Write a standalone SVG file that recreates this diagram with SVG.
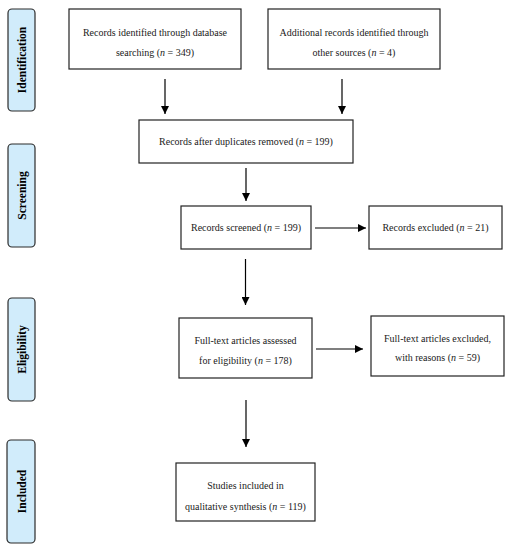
<svg xmlns="http://www.w3.org/2000/svg" width="507" height="550" viewBox="0 0 507 550">
<defs>
<marker id="ah" viewBox="0 0 10 10" refX="10" refY="5" markerWidth="8" markerHeight="8" markerUnits="userSpaceOnUse" orient="auto">
<path d="M0,0 L10,5 L0,10 z" fill="#000"/>
</marker>
<style>
.stage rect{fill:#d1ecfb;stroke:#2b2b2b;stroke-width:1.2}
.stage text{font-family:"Liberation Serif","DejaVu Serif",serif;font-weight:bold;font-size:11.5px;fill:#000;text-anchor:middle}
.box rect{fill:#fff;stroke:#222;stroke-width:1.2}
.box text{font-family:"Liberation Serif","DejaVu Serif",serif;font-size:10px;fill:#1a1a1a;text-anchor:middle}
#connectors line{stroke:#000;stroke-width:1.2;marker-end:url(#ah)}
</style>
</defs>
<rect width="507" height="550" fill="#fff"/>
<g id="stage-identification" class="stage"><rect x="8" y="9" width="27" height="102" rx="4"/><text transform="translate(25.5,60) rotate(-90)">Identification</text></g>
<g id="stage-screening" class="stage"><rect x="8" y="144" width="27" height="103" rx="4"/><text transform="translate(25.5,195.5) rotate(-90)">Screening</text></g>
<g id="stage-eligibility" class="stage"><rect x="8" y="298" width="27" height="103" rx="4"/><text transform="translate(25.5,349.5) rotate(-90)">Eligibility</text></g>
<g id="stage-included" class="stage"><rect x="7" y="440" width="28" height="103" rx="4"/><text transform="translate(25.5,491.5) rotate(-90)">Included</text></g>

<g id="n1" class="box"><rect x="69" y="9" width="172" height="60"/><text x="155" y="36">Records identified through database</text><text x="155" y="56">searching (<tspan font-style="italic">n</tspan> = 349)</text></g>
<g id="n2" class="box"><rect x="268" y="9" width="172" height="60"/><text x="354" y="36">Additional records identified through</text><text x="354" y="56">other sources (<tspan font-style="italic">n</tspan> = 4)</text></g>
<g id="n3" class="box"><rect x="139" y="120" width="214" height="43"/><text x="246" y="145">Records after duplicates removed (<tspan font-style="italic">n</tspan> = 199)</text></g>
<g id="n4" class="box"><rect x="181" y="206" width="130" height="43"/><text x="246" y="231">Records screened (<tspan font-style="italic">n</tspan> = 199)</text></g>
<g id="n5" class="box"><rect x="369" y="206" width="133" height="43"/><text x="435.5" y="231">Records excluded (<tspan font-style="italic">n</tspan> = 21)</text></g>
<g id="n6" class="box"><rect x="179" y="318" width="133" height="60"/><text x="245.5" y="344">Full-text articles assessed</text><text x="245.5" y="364">for eligibility (<tspan font-style="italic">n</tspan> = 178)</text></g>
<g id="n7" class="box"><rect x="371" y="316" width="133" height="60"/><text x="437.5" y="342">Full-text articles excluded,</text><text x="437.5" y="361">with reasons (<tspan font-style="italic">n</tspan> = 59)</text></g>
<g id="n8" class="box"><rect x="176" y="463" width="139" height="58"/><text x="245.5" y="489">Studies included in</text><text x="245.5" y="510">qualitative synthesis (<tspan font-style="italic">n</tspan> = 119)</text></g>

<g id="connectors">
<line x1="165" y1="79" x2="165" y2="114"/>
<line x1="342" y1="79" x2="342" y2="114"/>
<line x1="246" y1="168" x2="246" y2="201"/>
<line x1="315" y1="228" x2="366" y2="228"/>
<line x1="245.5" y1="259" x2="245.5" y2="305"/>
<line x1="316" y1="349" x2="363" y2="349"/>
<line x1="246" y1="400" x2="246" y2="447"/>
</g>
</svg>
